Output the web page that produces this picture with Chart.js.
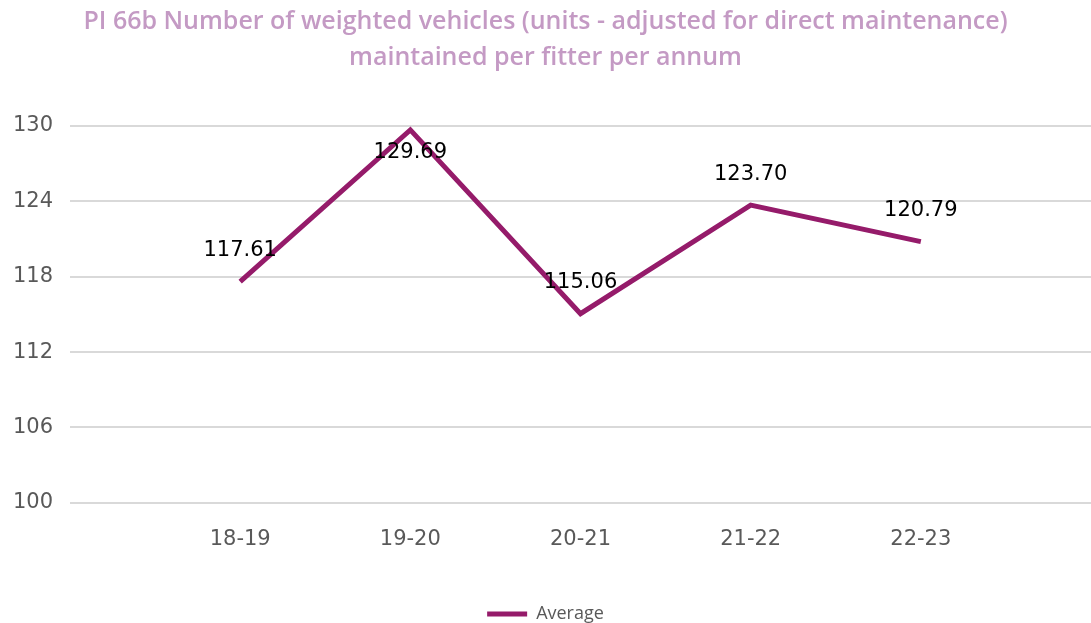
<!DOCTYPE html>
<html>
<head>
<meta charset="utf-8">
<script src="https://cdn.jsdelivr.net/npm/chart.js@4.4.0/dist/chart.umd.min.js"></script>
<style>
  html, body { margin: 0; padding: 0; background: #ffffff; }
  #wrap { width: 1091px; height: 623px; }
</style>
</head>
<body>
<div id="wrap"><canvas id="c" width="1091" height="623"></canvas></div>
<script>
const categories = ['', '18-19', '19-20', '20-21', '21-22', '22-23', ''];
const averageValues = [null, 117.61, 129.69, 115.06, 123.70, 120.79, null];
const yTicks = [100, 106, 112, 118, 124, 130];
const titleLines = ['PI 66b Number of weighted vehicles (units - adjusted for direct maintenance)', 'maintained per fitter per annum'];
const seriesName = 'Average';

const labelPlugin = {
  id: 'valueLabels',
  afterDatasetsDraw(chart) {
    const ctx = chart.ctx;
    const meta = chart.getDatasetMeta(0);
    const data = chart.data.datasets[0].data;
    ctx.save();
    ctx.font = '21px "DejaVu Sans"';
    ctx.fillStyle = '#000000';
    ctx.textAlign = 'center';
    ctx.textBaseline = 'middle';
    meta.data.forEach((pt, i) => {
      const v = data[i];
      if (v === null || v === undefined) return;
      const below = chart.chartArea.top + 10 > pt.y - 31;
      const dy = below ? 23 : -31;
      ctx.fillText(v.toFixed(2), pt.x, pt.y + dy);
    });
    ctx.restore();
  }
};

new Chart(document.getElementById('c'), {
  type: 'line',
  data: {
    labels: categories,
    datasets: [{
      label: seriesName,
      data: averageValues,
      borderColor: '#951b6a',
      backgroundColor: '#951b6a',
      borderWidth: 5,
      pointRadius: 0,
      tension: 0,
      spanGaps: false
    }]
  },
  options: {
    responsive: false,
    animation: false,
    layout: { padding: { left: 0, right: 0, top: 0, bottom: -10 } },
    plugins: {
      title: {
        display: true,
        text: titleLines,
        color: '#c49ac4',
        font: { family: 'Open Sans', size: 25, weight: '600', lineHeight: 1.44 },
        padding: { top: 4, bottom: 50 }
      },
      legend: {
        position: 'bottom',
        labels: {
          color: '#595959',
          font: { family: 'Open Sans', size: 18 },
          boxWidth: 40,
          boxHeight: 5,
          padding: 14,
          generateLabels() {
            return [{ text: seriesName, fillStyle: '#951b6a', strokeStyle: '#951b6a', lineWidth: 0, datasetIndex: 0, fontColor: '#595959' }];
          }
        }
      },
      tooltip: { enabled: false }
    },
    scales: {
      x: {
        offset: false,
        grid: { display: false, drawTicks: false },
        border: { display: false },
        afterFit(scale) { scale.paddingLeft = 0; scale.paddingRight = 0; scale.height += 15; },
        ticks: { color: '#595959', font: { family: 'DejaVu Sans', size: 21 }, padding: 24, maxRotation: 0, autoSkip: false }
      },
      y: {
        min: 100,
        max: 130,
        afterBuildTicks(scale) { scale.ticks = yTicks.map(v => ({ value: v })); },
        afterFit(scale) { scale.width = 70; scale.paddingTop = 0; scale.paddingBottom = 0; },
        grid: { color: '#d9d9d9', lineWidth: 2, drawTicks: false },
        border: { display: false },
        ticks: { color: '#595959', font: { family: 'DejaVu Sans', size: 21 }, padding: 17 }
      }
    }
  },
  plugins: [labelPlugin]
});
</script>
</body>
</html>
